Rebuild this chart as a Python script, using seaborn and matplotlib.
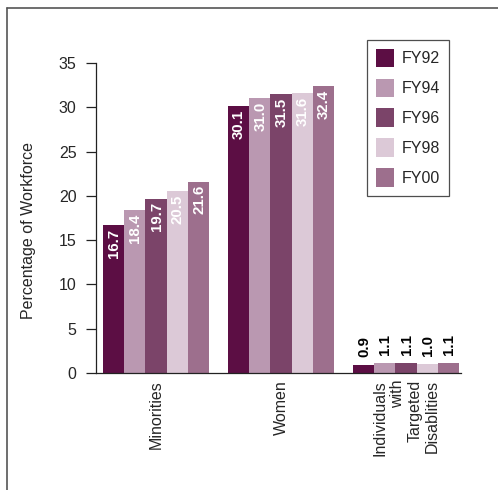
import matplotlib
matplotlib.use("Agg")
import matplotlib.pyplot as plt
from matplotlib.lines import Line2D
import seaborn as sns
import pandas as pd

categories = ["Minorities", "Women", "Individuals\nwith\nTargeted\nDisablities"]
years = ["FY92", "FY94", "FY96", "FY98", "FY00"]
minorities = [16.7, 18.4, 19.7, 20.5, 21.6]
women = [30.1, 31.0, 31.5, 31.6, 32.4]
disabilities = [0.9, 1.1, 1.1, 1.0, 1.1]
colors = ["#5C0E44", "#BA98B1", "#7B4469", "#DCC9D7", "#9D6F8D"]

rows = []
for cat, vals in zip(categories, [minorities, women, disabilities]):
    for yr, v in zip(years, vals):
        rows.append({"category": cat, "year": yr, "value": v})
df = pd.DataFrame(rows)

sns.set_style("white")
plt.rcParams["font.family"] = ["Liberation Sans", "DejaVu Sans"]

fig = plt.figure(figsize=(4.98, 4.90), dpi=100)
ax = fig.add_axes([96 / 498, 1 - 373 / 490, 365 / 498, 310 / 490])

sns.barplot(data=df, x="category", y="value", hue="year", order=categories,
            hue_order=years, palette=colors, width=0.85, linewidth=0,
            saturation=1, errorbar=None, ax=ax)

ax.set_ylim(0, 35)
ax.set_xlim(-0.48, 2.44)
ax.set_yticks(range(0, 36, 5))
ax.tick_params(axis="y", direction="out", length=7, width=0.9, pad=7,
               labelsize=11.5, color="#222222", left=True)
ax.tick_params(axis="x", length=0, pad=5, labelsize=11.5)
for lbl in ax.get_xticklabels():
    lbl.set_rotation(90)
    lbl.set_va("top")
    lbl.set_ha("center")
    lbl.set_multialignment("right")
ax.set_xlabel("")
ax.set_ylabel("Percentage of Workforce", fontsize=11.5)
ax.yaxis.set_label_coords(-0.165, 0.46)

for side in ["top", "right"]:
    ax.spines[side].set_visible(False)
for side in ["left", "bottom"]:
    ax.spines[side].set_color("#222222")
    ax.spines[side].set_linewidth(0.9)

# value labels: inside the bar top for tall bars, above it for short ones
for container in ax.containers:
    for patch in container.patches:
        h = patch.get_height()
        xc = patch.get_x() + patch.get_width() / 2
        if h > 5:
            ax.annotate(f"{h:.1f}", (xc, h), xytext=(0.5, -2.5),
                        textcoords="offset points", rotation=90,
                        ha="center", va="top", color="white",
                        fontweight="bold", fontsize=10.8)
        else:
            ax.annotate(f"{h:.1f}", (xc, h), xytext=(0.5, 6),
                        textcoords="offset points", rotation=90,
                        ha="center", va="bottom", color="black",
                        fontweight="bold", fontsize=10.8)

leg = ax.legend(loc="upper left", bbox_to_anchor=(367 / 498, 1 - 40 / 490),
                bbox_transform=fig.transFigure, frameon=True, fancybox=False,
                fontsize=11.5, handlelength=1.17, handleheight=1.42,
                labelspacing=0.7, borderpad=0.55, handletextpad=0.45,
                borderaxespad=0)
leg.get_frame().set_edgecolor("#222222")
leg.get_frame().set_linewidth(0.9)

# outer frame on the top and left edges
fig.add_artist(Line2D([7 / 498, 1], [1 - 8 / 490, 1 - 8 / 490],
                      transform=fig.transFigure, color="#555555", lw=1.2))
fig.add_artist(Line2D([7 / 498, 7 / 498], [0, 1 - 8 / 490],
                      transform=fig.transFigure, color="#555555", lw=1.2))

fig.savefig("out.png", dpi=100)
